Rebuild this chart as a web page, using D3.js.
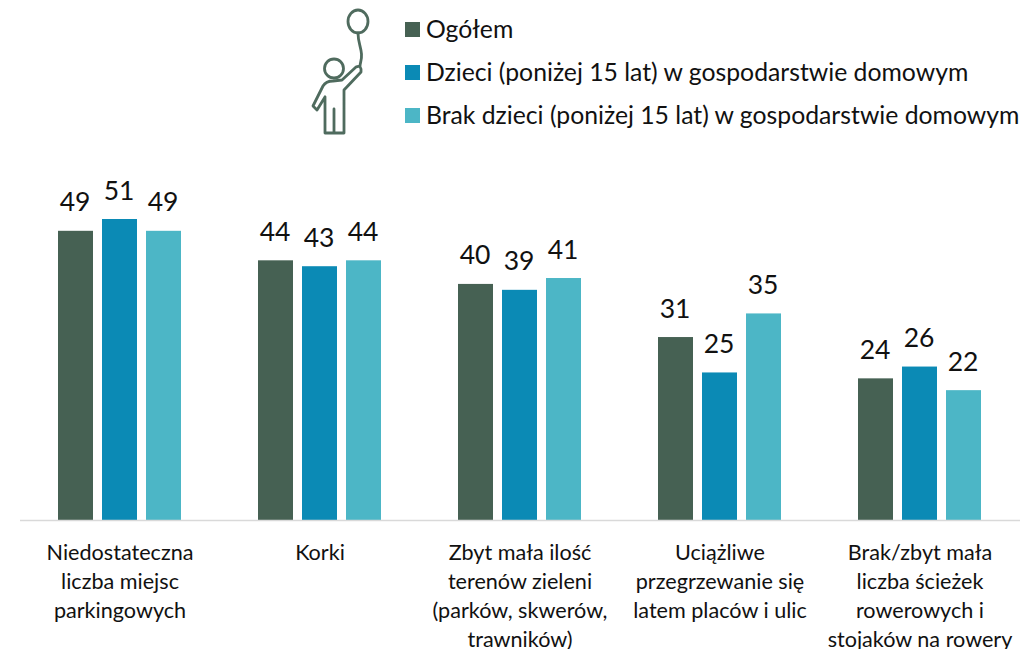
<!DOCTYPE html>
<html><head><meta charset="utf-8">
<script src="https://cdnjs.cloudflare.com/ajax/libs/d3/7.8.5/d3.min.js"></script>
<style>html,body{margin:0;padding:0;background:#fff}svg{display:block}text{font-family:Lato,sans-serif;fill:#111}</style>
</head><body><svg id="c" width="1023" height="649"></svg>
<script>
const categories = [
  ["Niedostateczna","liczba miejsc","parkingowych"],
  ["Korki"],
  ["Zbyt mała ilość","terenów zieleni","(parków, skwerów,","trawników)"],
  ["Uciążliwe","przegrzewanie się","latem placów i ulic"],
  ["Brak/zbyt mała","liczba ścieżek","rowerowych i","stojaków na rowery"]
];
const seriesNames = ["Ogółem","Dzieci (poniżej 15 lat) w gospodarstwie domowym","Brak dzieci (poniżej 15 lat) w gospodarstwie domowym"];
const colors = ["#466153","#0b8ab5","#4cb6c6"];
const ogolem = [49,44,40,31,24];
const dzieci = [51,43,39,25,26];
const brak = [49,44,41,35,22];
const series = [ogolem,dzieci,brak];

const svg = d3.select("#c");
const x0 = d3.scaleBand().domain(d3.range(categories.length)).range([20,1020]);
const x1 = d3.scaleBand().domain(d3.range(3)).range([0,123]).paddingInner(9/44).paddingOuter(0);
const y = d3.scaleLinear().domain([0,51]).range([520,219]);

series.forEach((vals,s)=>{
  const g = svg.append("g");
  const bx = i => x0(i)+x0.bandwidth()/2-62+x1(s);
  g.selectAll("rect").data(vals).join("rect")
    .attr("x",(d,i)=>bx(i)).attr("width",x1.bandwidth())
    .attr("y",d=>y(d)).attr("height",d=>y(0)-y(d)).attr("fill",colors[s]);
  g.selectAll("text").data(vals).join("text")
    .attr("x",(d,i)=>bx(i)+x1.bandwidth()/2-0.5).attr("y",d=>y(d)-19.5)
    .attr("text-anchor","middle").attr("font-size",26.5).text(d=>d);
});

svg.append("line").attr("x1",20).attr("x2",1020).attr("y1",520.5).attr("y2",520.5)
  .attr("stroke","#d9d9d9").attr("stroke-width",1.5);

categories.forEach((lines,i)=>{
  const t = svg.append("text").attr("text-anchor","middle").attr("font-size",21.6);
  lines.forEach((l,k)=>t.append("tspan").attr("x",x0(i)+x0.bandwidth()/2).attr("y",559.5+k*29.2).text(l));
});

const legY = [30,73,116];
seriesNames.forEach((n,i)=>{
  svg.append("rect").attr("x",405).attr("y",legY[i]-8).attr("width",15).attr("height",15).attr("fill",colors[i]);
  svg.append("text").attr("x",426).attr("y",legY[i]+7.5).attr("font-size",24.75).text(n);
});

// icon
const ic = svg.append("g").attr("fill","none").attr("stroke","#4f6b5e").attr("stroke-width",2.8)
  .attr("stroke-linecap","round").attr("stroke-linejoin","round");
ic.append("ellipse").attr("cx",358).attr("cy",21.5).attr("rx",10).attr("ry",11.5);
ic.append("path").attr("d","M358 33 C358 42 361 47 361.5 54 C362 60 360 63 360 66");
ic.append("circle").attr("cx",334).attr("cy",68.5).attr("r",9.5);
ic.append("path").attr("d","M325 97 L317 110 L313 106 L323 86 Q326 81 333 81 L342 80 L356 67 Q360 65 361 69 L361 72 L344 90 L344 133 L325 133 L325 97 M334 133 L334 109");
</script></body></html>
